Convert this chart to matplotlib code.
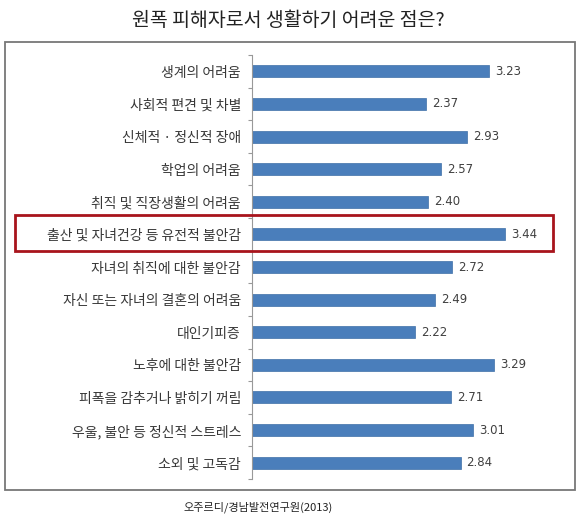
import matplotlib.pyplot as plt
import matplotlib.patches as patches

plt.rcParams['font.family'] = ['Noto Sans CJK KR', 'DejaVu Sans']

categories = ['생계의 어려움', '사회적 편견 및 차별', '신체적 · 정신적 장애', '학업의 어려움',
              '취직 및 직장생활의 어려움', '출산 및 자녀건강 등 유전적 불안감',
              '자녀의 취직에 대한 불안감', '자신 또는 자녀의 결혼의 어려움', '대인기피증',
              '노후에 대한 불안감', '피폭을 감추거나 밝히기 꺼림',
              '우울, 불안 등 정신적 스트레스', '소외 및 고독감']
values = [3.23, 2.37, 2.93, 2.57, 2.40, 3.44, 2.72, 2.49, 2.22, 3.29, 2.71, 3.01, 2.84]

W, H = 583, 522
fig = plt.figure(figsize=(W / 100, H / 100), dpi=100)

# axes placed in pixel terms
left, right, top, bottom = 252, 560, 55, 479
ax = fig.add_axes([left / W, 1 - bottom / H, (right - left) / W, (bottom - top) / H])

y = list(range(len(categories)))
ax.barh(y, values, height=0.37, color='#4a7ebb', edgecolor='#3f6fa8', linewidth=0.5)
ax.set_ylim(len(categories) - 0.5, -0.5)
ax.set_xlim(0, (right - left) / 73.5)

for yi, v in zip(y, values):
    ax.text(v + 0.08, yi, f'{v:.2f}', va='center', ha='left', fontsize=8.5,
            color='#404040', family=['DejaVu Sans'])

ax.set_yticks(y)
ax.set_yticklabels(categories, fontsize=10, color='#383838')
ax.set_yticks([i - 0.5 for i in range(len(categories) + 1)], minor=True)
ax.tick_params(axis='y', which='major', length=0, pad=8)
ax.tick_params(axis='y', which='minor', length=3, color='#999999', width=0.8)
ax.set_xticks([])
for s in ['top', 'right', 'bottom']:
    ax.spines[s].set_visible(False)
ax.spines['left'].set_color('#999999')
ax.spines['left'].set_linewidth(0.8)

# outer frame
frame = patches.Rectangle((5 / W, 1 - 490 / H), 570 / W, 448 / H, transform=fig.transFigure,
                          fill=False, edgecolor='#777777', linewidth=1.3)
fig.add_artist(frame)

# red highlight box
hl = patches.Rectangle((15 / W, 1 - 251 / H), 538 / W, 36 / H, transform=fig.transFigure,
                       fill=False, edgecolor='#a8141c', linewidth=2)
fig.add_artist(hl)

fig.text(288 / W, 1 - 20 / H, '원폭 피해자로서 생활하기 어려운 점은?', ha='center', va='center',
         fontsize=14, color='#222222')
fig.text(258 / W, 1 - 507 / H, '오주르디/경남발전연구원(2013)', ha='center', va='center',
         fontsize=8, color='#222222')

fig.savefig('out.png', dpi=100)
